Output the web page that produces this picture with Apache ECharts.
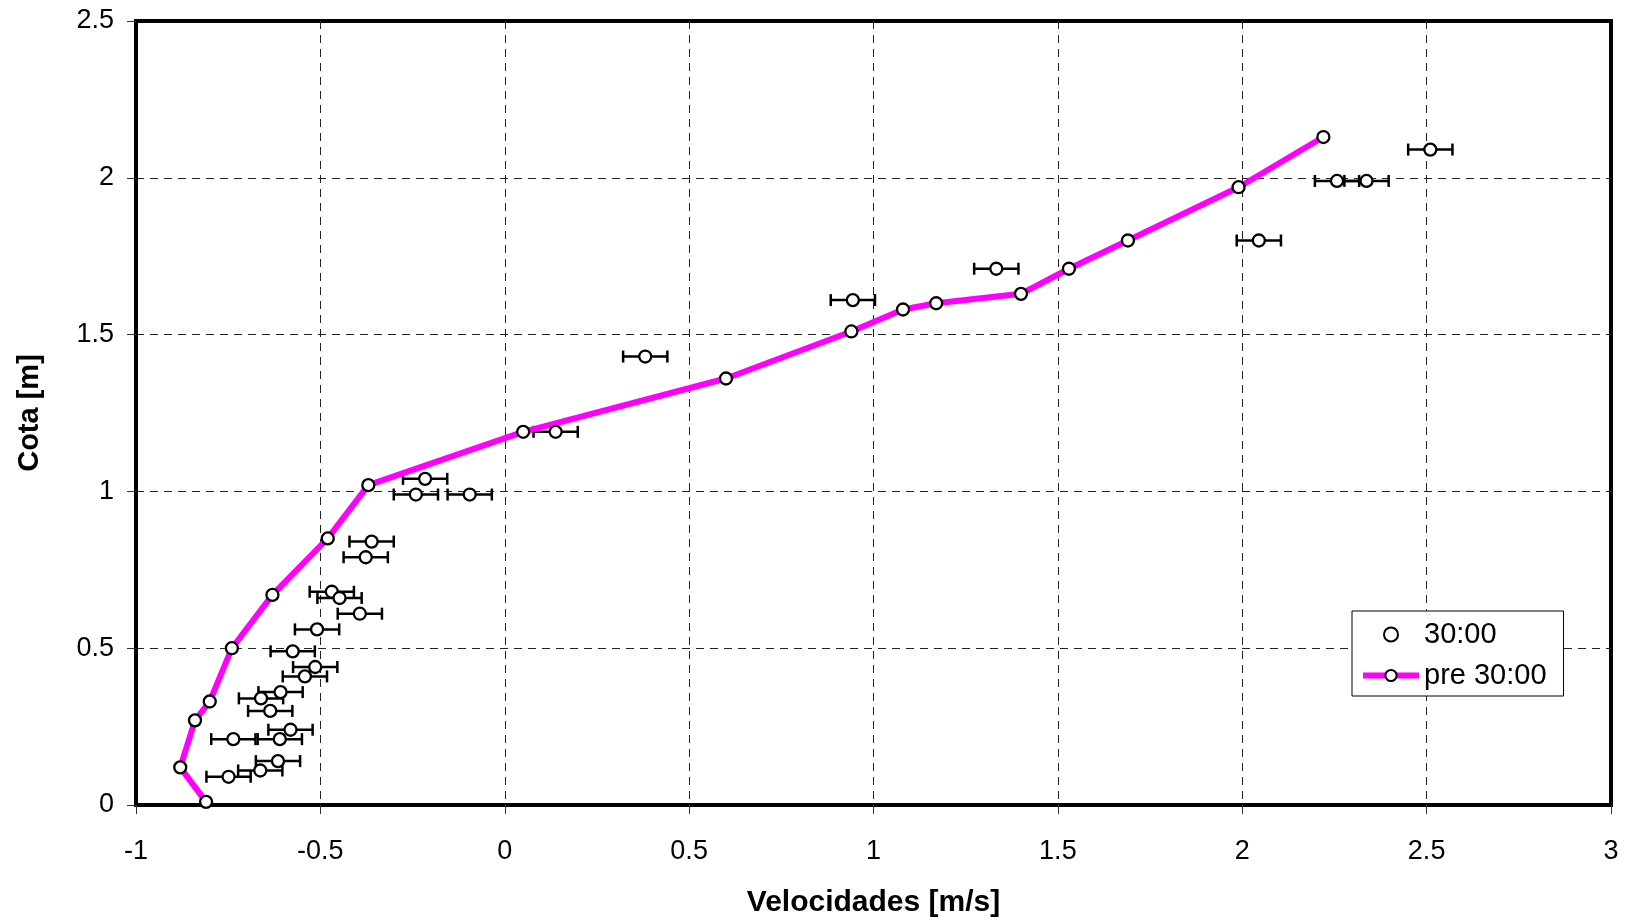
<!DOCTYPE html>
<html>
<head>
<meta charset="utf-8">
<title>Velocidades</title>
<script src="https://cdn.jsdelivr.net/npm/echarts@6/dist/echarts.min.js"></script>
<style>
  html, body { margin: 0; padding: 0; background: #fff; }
  #chart { width: 1626px; height: 920px; }
</style>
</head>
<body>
<div id="chart"></div>
<script>
// Measured profile "30:00": velocity [m/s], elevation [m], half-width of the error bar [m/s]
const measVel = [
  -0.216, -0.241, -0.095, -0.361, -0.377, -0.469, -0.448, -0.393, -0.509, -0.575,
  -0.514, -0.542, -0.608, -0.661, -0.636, -0.581, -0.736, -0.610, -0.615, -0.663,
  -0.749, 0.138, 0.381, 0.944, 1.333, 2.045, 2.257, 2.337, 2.510
];
const measCota = [
  1.04, 0.99, 0.99, 0.84, 0.79, 0.68, 0.66, 0.61, 0.56, 0.49,
  0.44, 0.41, 0.36, 0.34, 0.30, 0.24, 0.21, 0.21, 0.14, 0.11,
  0.09, 1.19, 1.43, 1.61, 1.71, 1.80, 1.99, 1.99, 2.09
];
const measErr = [
  0.06, 0.06, 0.06, 0.06, 0.06, 0.06, 0.06, 0.06, 0.06, 0.06,
  0.06, 0.06, 0.06, 0.06, 0.06, 0.06, 0.06, 0.06, 0.06, 0.06,
  0.06, 0.06, 0.06, 0.06, 0.06, 0.06, 0.06, 0.06, 0.06
];

// Previous profile "pre 30:00"
const preVel = [
  -0.81, -0.88, -0.84, -0.80, -0.74, -0.63, -0.48, -0.37, 0.05, 0.60,
  0.94, 1.08, 1.17, 1.40, 1.53, 1.69, 1.99, 2.22
];
const preCota = [
  0.01, 0.12, 0.27, 0.33, 0.50, 0.67, 0.85, 1.02, 1.19, 1.36,
  1.51, 1.58, 1.60, 1.63, 1.71, 1.80, 1.97, 2.13
];

// Axis ticks
const xTicks = [-1, -0.5, 0, 0.5, 1, 1.5, 2, 2.5, 3];
const yTicks = [0, 0.5, 1, 1.5, 2, 2.5];

const seriesNames = ['30:00', 'pre 30:00'];
const xTitle = 'Velocidades [m/s]';
const yTitle = 'Cota [m]';

const FONT = '"Liberation Sans", Arial, sans-serif';

const measPoints = measVel.map((v, i) => [v, measCota[i]]);
const errRows = measVel.map((v, i) => [v, measCota[i], v - measErr[i], v + measErr[i]]);
const prePoints = preVel.map((v, i) => [v, preCota[i]]);

const markerStyle = { color: '#fff', borderColor: '#000', borderWidth: 2.3, opacity: 1 };

function renderErrBar(params, api) {
  const y = api.value(1);
  const a = api.coord([api.value(2), y]);
  const b = api.coord([api.value(3), y]);
  const cap = 6;
  const st = { stroke: '#000', lineWidth: 2.5 };
  return {
    type: 'group',
    children: [
      { type: 'line', shape: { x1: a[0], y1: a[1], x2: b[0], y2: b[1] }, style: st },
      { type: 'line', shape: { x1: a[0], y1: a[1] - cap, x2: a[0], y2: a[1] + cap }, style: st },
      { type: 'line', shape: { x1: b[0], y1: b[1] - cap, x2: b[0], y2: b[1] + cap }, style: st }
    ]
  };
}

const chart = echarts.init(document.getElementById('chart'), null, { renderer: 'canvas' });

chart.setOption({
  animation: false,
  backgroundColor: '#fff',
  textStyle: { fontFamily: FONT, color: '#000' },
  grid: {
    left: 136, top: 21, width: 1475, height: 784,
    containLabel: false,
    outerBoundsMode: 'none',
    show: true, borderColor: '#000', borderWidth: 4, backgroundColor: 'transparent'
  },
  legend: {
    data: [
      { name: seriesNames[0] },
      { name: seriesNames[1], lineStyle: { width: 6, color: '#ff00ff' } }
    ],
    orient: 'vertical',
    left: 1352, top: 611,
    padding: [9, 17, 6, 8],
    itemGap: 12,
    itemWidth: 56,
    itemHeight: 14,
    backgroundColor: '#fff',
    borderColor: '#000',
    borderWidth: 1,
    borderRadius: 0,
    textStyle: { fontFamily: FONT, fontSize: 29, color: '#000', padding: [0, 0, 0, 0] },
    selectedMode: false
  },
  xAxis: {
    type: 'value',
    min: xTicks[0], max: xTicks[xTicks.length - 1], interval: xTicks[1] - xTicks[0],
    name: xTitle,
    nameLocation: 'middle',
    nameGap: 83,
    nameTextStyle: { fontFamily: FONT, fontSize: 30, fontWeight: 'bold', color: '#000' },
    axisLine: { show: true, onZero: false, lineStyle: { color: '#000', width: 4 } },
    axisTick: { show: true, inside: false, length: 9, lineStyle: { color: '#333', width: 1 } },
    axisLabel: { fontFamily: FONT, fontSize: 27, color: '#000', margin: 33 },
    splitLine: {
      show: true, showMinLine: false, showMaxLine: false,
      lineStyle: { color: '#222', width: 1, type: [8, 6] }
    }
  },
  yAxis: {
    type: 'value',
    min: yTicks[0], max: yTicks[yTicks.length - 1], interval: yTicks[1] - yTicks[0],
    name: yTitle,
    nameLocation: 'middle',
    nameGap: 92,
    nameRotate: 90,
    nameTextStyle: { fontFamily: FONT, fontSize: 29, fontWeight: 'bold', color: '#000' },
    axisLine: { show: true, onZero: false, lineStyle: { color: '#000', width: 4 } },
    axisTick: { show: true, inside: false, length: 9, lineStyle: { color: '#333', width: 1 } },
    axisLabel: { fontFamily: FONT, fontSize: 27, color: '#000', margin: 22 },
    splitLine: {
      show: true, showMinLine: false, showMaxLine: false,
      lineStyle: { color: '#222', width: 1, type: [8, 6] }
    }
  },
  series: [
    {
      name: 'err',
      type: 'custom',
      renderItem: renderErrBar,
      data: errRows,
      encode: { x: [0, 2, 3], y: 1 },
      z: 2,
      silent: true
    },
    {
      name: seriesNames[0],
      type: 'scatter',
      data: measPoints,
      symbol: 'circle',
      symbolSize: 12,
      itemStyle: markerStyle,
      z: 4
    },
    {
      name: seriesNames[1],
      type: 'line',
      data: prePoints,
      symbol: 'circle',
      symbolSize: 12,
      showAllSymbol: true,
      clip: false,
      lineStyle: { color: '#ff00ff', width: 6 },
      itemStyle: markerStyle,
      z: 3
    }
  ]
});
</script>
</body>
</html>
